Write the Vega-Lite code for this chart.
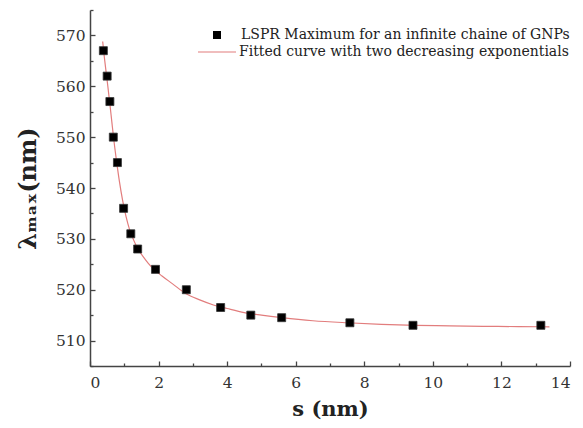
{
  "$schema": "https://vega.github.io/schema/vega-lite/v6.json",
  "width": 480,
  "height": 356,
  "autosize": {"type": "none"},
  "padding": {"left": 90, "top": 10, "right": 13, "bottom": 62},
  "background": "white",
  "config": {
    "view": {"stroke": null},
    "font": "DejaVu Serif",
    "axis": {"grid": false, "domainColor": "#444", "domainWidth": 1.5, "tickColor": "#444", "tickWidth": 1.3, "labelFont": "DejaVu Serif", "labelFontSize": 15.5, "labelColor": "#333", "titleFont": "DejaVu Serif", "titleFontSize": 21, "titleFontWeight": "bold", "titleColor": "#222"}
  },
  "datasets": {
    "points": [
      {"s": 0.39, "lambda": 567, "series": "LSPR Maximum  for an infinite chaine of GNPs"},
      {"s": 0.50, "lambda": 562, "series": "LSPR Maximum  for an infinite chaine of GNPs"},
      {"s": 0.58, "lambda": 557, "series": "LSPR Maximum  for an infinite chaine of GNPs"},
      {"s": 0.68, "lambda": 550, "series": "LSPR Maximum  for an infinite chaine of GNPs"},
      {"s": 0.80, "lambda": 545, "series": "LSPR Maximum  for an infinite chaine of GNPs"},
      {"s": 0.98, "lambda": 536, "series": "LSPR Maximum  for an infinite chaine of GNPs"},
      {"s": 1.19, "lambda": 531, "series": "LSPR Maximum  for an infinite chaine of GNPs"},
      {"s": 1.39, "lambda": 528, "series": "LSPR Maximum  for an infinite chaine of GNPs"},
      {"s": 1.91, "lambda": 524, "series": "LSPR Maximum  for an infinite chaine of GNPs"},
      {"s": 2.81, "lambda": 520, "series": "LSPR Maximum  for an infinite chaine of GNPs"},
      {"s": 3.81, "lambda": 516.5, "series": "LSPR Maximum  for an infinite chaine of GNPs"},
      {"s": 4.69, "lambda": 515, "series": "LSPR Maximum  for an infinite chaine of GNPs"},
      {"s": 5.59, "lambda": 514.5, "series": "LSPR Maximum  for an infinite chaine of GNPs"},
      {"s": 7.58, "lambda": 513.5, "series": "LSPR Maximum  for an infinite chaine of GNPs"},
      {"s": 9.42, "lambda": 513, "series": "LSPR Maximum  for an infinite chaine of GNPs"},
      {"s": 13.15, "lambda": 513, "series": "LSPR Maximum  for an infinite chaine of GNPs"}
    ],
    "curve": [
      {"s": 0.37, "lambda": 568.8, "series": "Fitted curve with two  decreasing exponentials"},
      {"s": 0.42, "lambda": 565.6, "series": "Fitted curve with two  decreasing exponentials"},
      {"s": 0.47, "lambda": 562.8, "series": "Fitted curve with two  decreasing exponentials"},
      {"s": 0.52, "lambda": 560.0, "series": "Fitted curve with two  decreasing exponentials"},
      {"s": 0.58, "lambda": 556.5, "series": "Fitted curve with two  decreasing exponentials"},
      {"s": 0.64, "lambda": 552.8, "series": "Fitted curve with two  decreasing exponentials"},
      {"s": 0.70, "lambda": 549.2, "series": "Fitted curve with two  decreasing exponentials"},
      {"s": 0.78, "lambda": 545.0, "series": "Fitted curve with two  decreasing exponentials"},
      {"s": 0.86, "lambda": 541.2, "series": "Fitted curve with two  decreasing exponentials"},
      {"s": 0.95, "lambda": 537.6, "series": "Fitted curve with two  decreasing exponentials"},
      {"s": 1.05, "lambda": 534.4, "series": "Fitted curve with two  decreasing exponentials"},
      {"s": 1.15, "lambda": 531.9, "series": "Fitted curve with two  decreasing exponentials"},
      {"s": 1.27, "lambda": 529.8, "series": "Fitted curve with two  decreasing exponentials"},
      {"s": 1.40, "lambda": 528.0, "series": "Fitted curve with two  decreasing exponentials"},
      {"s": 1.55, "lambda": 526.5, "series": "Fitted curve with two  decreasing exponentials"},
      {"s": 1.70, "lambda": 525.2, "series": "Fitted curve with two  decreasing exponentials"},
      {"s": 1.90, "lambda": 523.8, "series": "Fitted curve with two  decreasing exponentials"},
      {"s": 2.10, "lambda": 522.7, "series": "Fitted curve with two  decreasing exponentials"},
      {"s": 2.40, "lambda": 521.2, "series": "Fitted curve with two  decreasing exponentials"},
      {"s": 2.80, "lambda": 519.2, "series": "Fitted curve with two  decreasing exponentials"},
      {"s": 3.20, "lambda": 518.0, "series": "Fitted curve with two  decreasing exponentials"},
      {"s": 3.60, "lambda": 517.0, "series": "Fitted curve with two  decreasing exponentials"},
      {"s": 4.00, "lambda": 516.3, "series": "Fitted curve with two  decreasing exponentials"},
      {"s": 4.50, "lambda": 515.5, "series": "Fitted curve with two  decreasing exponentials"},
      {"s": 5.00, "lambda": 515.0, "series": "Fitted curve with two  decreasing exponentials"},
      {"s": 5.60, "lambda": 514.5, "series": "Fitted curve with two  decreasing exponentials"},
      {"s": 6.50, "lambda": 513.9, "series": "Fitted curve with two  decreasing exponentials"},
      {"s": 7.50, "lambda": 513.5, "series": "Fitted curve with two  decreasing exponentials"},
      {"s": 8.50, "lambda": 513.2, "series": "Fitted curve with two  decreasing exponentials"},
      {"s": 9.50, "lambda": 513.0, "series": "Fitted curve with two  decreasing exponentials"},
      {"s": 10.5, "lambda": 512.9, "series": "Fitted curve with two  decreasing exponentials"},
      {"s": 11.5, "lambda": 512.8, "series": "Fitted curve with two  decreasing exponentials"},
      {"s": 12.5, "lambda": 512.75, "series": "Fitted curve with two  decreasing exponentials"},
      {"s": 13.4, "lambda": 512.7, "series": "Fitted curve with two  decreasing exponentials"}
    ]
  },
  "layer": [
    {
      "data": {"name": "curve"},
      "mark": {"type": "line", "strokeWidth": 1.2, "interpolate": "monotone"},
      "encoding": {
        "x": {"field": "s", "type": "quantitative", "scale": {"domain": [0, 14], "nice": false, "zero": false},
              "axis": {"orient": "bottom", "values": [1, 3, 5, 7, 9, 11, 13], "labels": false, "domain": false, "tickSize": -3, "title": null}},
        "y": {"field": "lambda", "type": "quantitative", "scale": {"domain": [505, 575], "nice": false, "zero": false},
              "axis": {"orient": "left", "values": [505, 515, 525, 535, 545, 555, 565, 575], "labels": false, "domain": false, "tickSize": -3, "title": null}},
        "color": {"field": "series", "type": "nominal", "scale": {"range": ["#e27d7d"]},
                  "legend": {"orient": "none", "legendX": 107, "legendY": 22, "title": null, "symbolType": "stroke", "symbolSize": 1444, "symbolStrokeWidth": 1.2, "labelFont": "DejaVu Serif", "labelFontSize": 14, "labelColor": "#222", "labelOffset": 2, "padding": 0, "labelLimit": 500}}
      }
    },
    {
      "data": {"name": "points"},
      "mark": {"type": "point", "shape": "square", "filled": true, "size": 64, "opacity": 1, "stroke": "#333", "strokeWidth": 0.8},
      "encoding": {
        "x": {"field": "s", "type": "quantitative", "scale": {"domain": [0, 14], "nice": false, "zero": false},
              "axis": {"orient": "bottom", "values": [0, 2, 4, 6, 8, 10, 12, 14], "tickSize": -5, "labelPadding": 14, "title": "s (nm)", "titlePadding": 8}},
        "y": {"field": "lambda", "type": "quantitative", "scale": {"domain": [505, 575], "nice": false, "zero": false},
              "axis": {"orient": "left", "values": [510, 520, 530, 540, 550, 560, 570], "tickSize": -5, "labelPadding": 10, "title": "λₘₐₓ(nm)", "titlePadding": 15, "titleFontSize": 24}},
        "shape": {"field": "series", "type": "nominal", "scale": {"range": ["square"]},
                  "legend": {"orient": "none", "legendX": 120, "legendY": 18, "title": null, "symbolSize": 64, "symbolFillColor": "black", "symbolStrokeColor": "black", "symbolStrokeWidth": 0, "labelFont": "DejaVu Serif", "labelFontSize": 14, "labelColor": "#222", "labelOffset": 17, "padding": 0, "labelLimit": 500}},
        "color": {"value": "black"}
      }
    }
  ],
  "resolve": {"axis": {"x": "independent", "y": "independent"}}
}
